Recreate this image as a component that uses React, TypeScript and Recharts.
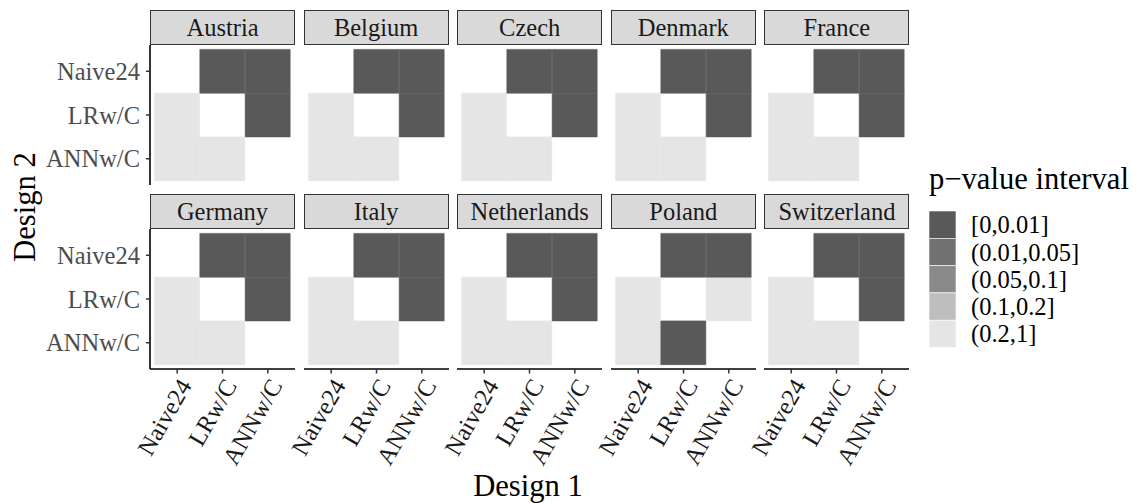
import React from 'react';
import { BarChart, Bar, XAxis, YAxis, Cell } from 'recharts';

// p-value interval index per cell: rows = Design 2, columns = Design 1
const designs = ['Naive24', 'LRw/C', 'ANNw/C'];
const intervals = ['[0,0.01]', '(0.01,0.05]', '(0.05,0.1]', '(0.1,0.2]', '(0.2,1]'];
const greys = ['#595959', '#717171', '#8a8a8a', '#bebebe', '#e5e5e5'];

const countries = [
  'Austria', 'Belgium', 'Czech', 'Denmark', 'France',
  'Germany', 'Italy', 'Netherlands', 'Poland', 'Switzerland',
];

const austria = [[null, 0, 0], [4, null, 0], [4, 4, null]];
const belgium = [[null, 0, 0], [4, null, 0], [4, 4, null]];
const czech = [[null, 0, 0], [4, null, 0], [4, 4, null]];
const denmark = [[null, 0, 0], [4, null, 0], [4, 4, null]];
const france = [[null, 0, 0], [4, null, 0], [4, 4, null]];
const germany = [[null, 0, 0], [4, null, 0], [4, 4, null]];
const italy = [[null, 0, 0], [4, null, 0], [4, 4, null]];
const netherlands = [[null, 0, 0], [4, null, 0], [4, 4, null]];
const poland = [[null, 0, 0], [4, null, 4], [4, 0, null]];
const switzerland = [[null, 0, 0], [4, null, 0], [4, 4, null]];

const matrices: (number | null)[][][] = [
  austria, belgium, czech, denmark, france,
  germany, italy, netherlands, poland, switzerland,
];

const FONT = '"Liberation Serif", "DejaVu Serif", "Noto Serif", Tinos, "Times New Roman", serif';
const SMALL = 24.5;
const BIG = 30.6;

const PANEL_W = 145;
const PANEL_H = 140;
const STRIP_H = 35.5;
const PITCH_X = 153.6;
const PITCH_Y = 184.2;
const LEFT0 = 150;
const TOP0 = 9.5;
const Y_AXIS_W = 150;
const X_AXIS_H = 135;
const X_LABEL_ROOM = 50;

const XTick = (props: any) => {
  const { x, y, payload } = props;
  return (
    <text
      x={x}
      y={y}
      dy="0.72em"
      textAnchor="end"
      transform={`rotate(-60 ${x} ${y})`}
      fontSize={SMALL}
      fontFamily={FONT}
      fill="#1a1a1a"
    >
      {payload.value}
    </text>
  );
};

const fillOf = (v: number | null) => (v === null ? 'none' : greys[v]);

function Panel({ index }: { index: number }) {
  const col = index % 5;
  const row = Math.floor(index / 5);
  const m = matrices[index];
  const showY = col === 0;
  const showX = row === 1;
  const stripTop = TOP0 + row * PITCH_Y;
  const left = LEFT0 + col * PITCH_X;

  const data = designs.map((d1) => ({ d1, naive: 1, lr: 1, ann: 1 }));
  const extraLeft = showY ? Y_AXIS_W : showX ? X_LABEL_ROOM : 0;
  const width = PANEL_W + extraLeft;
  const height = PANEL_H + (showX ? X_AXIS_H : 0);

  const rows = [
    { key: 'ann', r: 2 },
    { key: 'lr', r: 1 },
    { key: 'naive', r: 0 },
  ];

  return (
    <>
      <div
        style={{
          position: 'absolute',
          left,
          top: stripTop,
          width: PANEL_W,
          height: STRIP_H,
          boxSizing: 'border-box',
          background: '#d9d9d9',
          border: '1.2px solid #333333',
          color: '#1a1a1a',
          fontFamily: FONT,
          fontSize: SMALL,
          lineHeight: `${STRIP_H - 2}px`,
          textAlign: 'center',
        }}
      >
        {countries[index]}
      </div>
      <div
        style={{
          position: 'absolute',
          left: left - extraLeft,
          top: stripTop + STRIP_H,
        }}
      >
        <BarChart
          width={width}
          height={height}
          data={data}
          margin={{ top: 0, right: 0, bottom: 0, left: showY ? 0 : extraLeft }}
          barCategoryGap={0}
          barGap={0}
        >
          <XAxis
            dataKey="d1"
            type="category"
            hide={!showX}
            height={X_AXIS_H}
            padding={{ left: 4.53, right: 4.53 }}
            axisLine={{ stroke: '#000000', strokeWidth: 1.6 }}
            tickLine={{ stroke: '#333333', strokeWidth: 1.5 }}
            tickSize={4.5}
            tickMargin={3}
            interval={0}
            tick={<XTick />}
          />
          <YAxis
            type="number"
            domain={[-0.1, 3.1]}
            ticks={[0.5, 1.5, 2.5]}
            tickFormatter={(v: number) => designs[2 - Math.floor(v)]}
            hide={!showY}
            width={Y_AXIS_W}
            axisLine={{ stroke: '#000000', strokeWidth: 1.6 }}
            tickLine={{ stroke: '#333333', strokeWidth: 1.5 }}
            tickSize={4}
            tickMargin={6}
            tick={{ fontSize: SMALL, fontFamily: FONT, fill: '#4d4d4d' }}
          />
          {rows.map(({ key, r }) => (
            <Bar key={key} dataKey={key} stackId="a" isAnimationActive={false}>
              {data.map((_, j) => (
                <Cell
                  key={`${key}-${j}`}
                  fill={fillOf(m[r][j])}
                  stroke={fillOf(m[r][j])}
                  strokeWidth={0.6}
                />
              ))}
            </Bar>
          ))}
        </BarChart>
      </div>
    </>
  );
}

export default function App() {
  return (
    <div
      style={{
        position: 'absolute',
        left: 0,
        top: 0,
        width: 1136,
        height: 503,
        background: '#ffffff',
        overflow: 'hidden',
        fontFamily: FONT,
      }}
    >
      {countries.map((_, i) => (
        <Panel key={countries[i]} index={i} />
      ))}

      <svg style={{ position: 'absolute', left: 0, top: 0 }} width={1136} height={503} pointerEvents="none">
        {/* axis titles */}
        <text x={528} y={495.5} textAnchor="middle" fontSize={BIG} fontFamily={FONT} fill="#000">
          Design 1
        </text>
        <text
          x={35}
          y={207}
          transform="rotate(-90 35 207)"
          textAnchor="middle"
          fontSize={BIG}
          fontFamily={FONT}
          fill="#000"
        >
          Design 2
        </text>

        {/* legend */}
        <text x={929} y={189} fontSize={BIG} fontFamily={FONT} fill="#000">
          p−value interval
        </text>
        {intervals.map((lab, i) => (
          <g key={lab}>
            <rect
              x={929}
              y={211 + i * 27.3}
              width={27}
              height={27.3}
              fill={greys[i]}
              stroke="#ffffff"
              strokeWidth={0.6}
            />
            <text
              x={971}
              y={211 + i * 27.3 + 13.65}
              dy="0.35em"
              fontSize={SMALL}
              fontFamily={FONT}
              fill="#000"
            >
              {lab}
            </text>
          </g>
        ))}
      </svg>
    </div>
  );
}
